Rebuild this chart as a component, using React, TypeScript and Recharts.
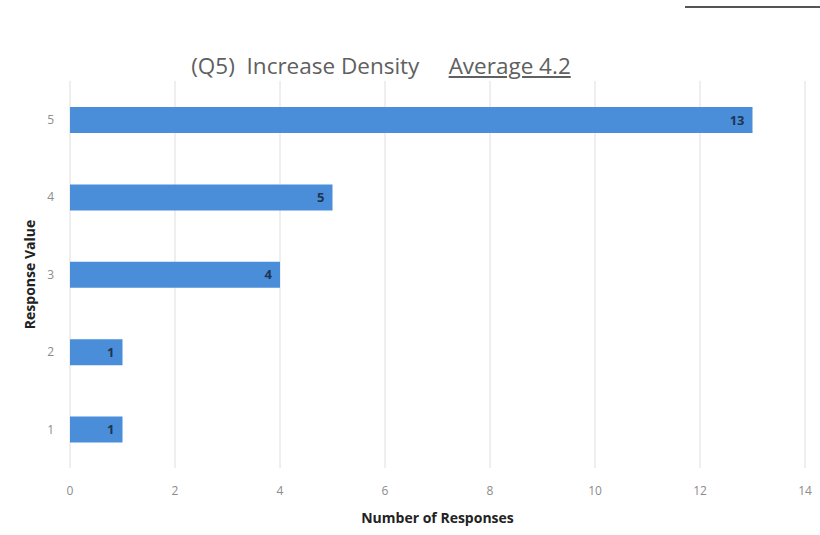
import React from 'react';
import {
  BarChart, Bar, XAxis, YAxis, CartesianGrid, LabelList, Label,
} from 'recharts';

const responseValues = ['5', '4', '3', '2', '1'];
const responseCounts = [13, 5, 4, 1, 1];
const xTicks = [0, 2, 4, 6, 8, 10, 12, 14];

const data = responseValues.map((v, i) => ({ value: v, count: responseCounts[i] }));

const font = '"Open Sans", "Liberation Sans", sans-serif';

const App: React.FC = () => {
  return (
    <div style={{ position: 'fixed', left: 0, top: 0, width: 820, height: 535, background: '#fff', fontFamily: font }}>
      {/* thin rule cut off at the top right */}
      <div style={{ position: 'absolute', left: 685, top: 6, width: 135, height: 2, background: '#555' }} />
      <div
        style={{
          position: 'absolute', left: 0, top: 50, width: 762, textAlign: 'center',
          fontSize: 22.5, color: '#606060', whiteSpace: 'pre',
        }}
      >
        {'(Q5)  Increase Density     '}
        <span style={{ textDecoration: 'underline' }}>Average 4.2</span>
      </div>
      <BarChart
        width={820}
        height={535}
        data={data}
        layout="vertical"
        margin={{ top: 81, right: 15, bottom: 0, left: 0 }}
      >
        <CartesianGrid horizontal={false} stroke="#dedede" />
        <XAxis
          type="number"
          domain={[0, 14]}
          ticks={xTicks}
          axisLine={false}
          tickLine={false}
          height={67}
          tickMargin={12}
          tick={{ fill: '#8c8c8c', fontSize: 12, fontFamily: font }}
        >
          <Label
            value="Number of Responses"
            position="insideBottom"
            offset={12}
            style={{ fill: '#222', fontSize: 14, fontWeight: 'bold', fontFamily: font }}
          />
        </XAxis>
        <YAxis
          type="category"
          dataKey="value"
          width={70}
          axisLine={false}
          tickLine={false}
          tickMargin={10}
          tick={{ fill: '#8c8c8c', fontSize: 12, fontFamily: font }}
        >
          <Label
            value="Response Value"
            angle={-90}
            position="insideLeft"
            offset={30}
            style={{ fill: '#222', fontSize: 14, fontWeight: 'bold', fontFamily: font, textAnchor: 'middle' }}
          />
        </YAxis>
        <Bar dataKey="count" fill="#4a8ed9" barSize={26} isAnimationActive={false}>
          <LabelList
            dataKey="count"
            position="insideRight"
            offset={8}
            style={{ fill: '#1f3552', fontSize: 13, fontWeight: 'bold', fontFamily: font }}
          />
        </Bar>
      </BarChart>
    </div>
  );
};

export default App;
